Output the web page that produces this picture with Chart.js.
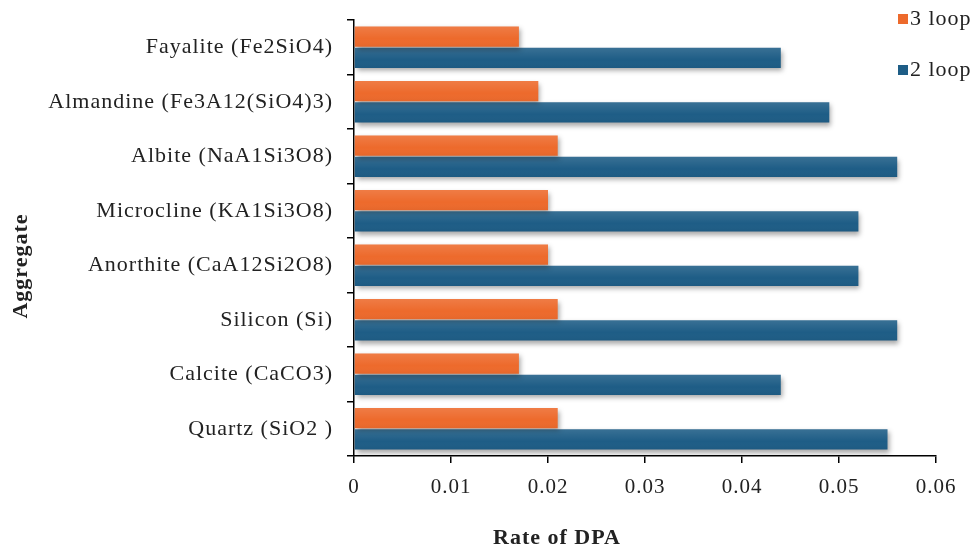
<!DOCTYPE html>
<html>
<head>
<meta charset="utf-8">
<script src="https://cdn.jsdelivr.net/npm/chart.js@4"></script>
<style>
  html, body { margin: 0; padding: 0; background: #ffffff; }
  #wrap { width: 977px; height: 552px; }
</style>
</head>
<body>
<div id="wrap"><canvas id="c" width="977" height="552"></canvas></div>
<script>
// Aggregate minerals, listed top to bottom
const categories = [
  'Fayalite (Fe2SiO4)',
  'Almandine (Fe3A12(SiO4)3)',
  'Albite (NaA1Si3O8)',
  'Microcline (KA1Si3O8)',
  'Anorthite (CaA12Si2O8)',
  'Silicon (Si)',
  'Calcite (CaCO3)',
  'Quartz (SiO2 )'
];
const seriesNames = ['3 loop', '2 loop'];
const loop3 = [0.017, 0.019, 0.021, 0.020, 0.020, 0.021, 0.017, 0.021];
const loop2 = [0.044, 0.049, 0.056, 0.052, 0.052, 0.056, 0.044, 0.055];
const xTicks = [0, 0.01, 0.02, 0.03, 0.04, 0.05, 0.06];
const xTitle = 'Rate of DPA';
const yTitle = 'Aggregate';

const SERIF = '"Liberation Serif", "Times New Roman", serif';
const ORANGE = '#ED6A2C';
const BLUE = '#1E5D86';

// slightly wider text tracking for every label on the canvas
const tracking = {
  id: 'tracking',
  beforeDraw(chart) { chart.ctx.letterSpacing = '1px'; }
};

// soft drop shadow behind the bars, plus a light sheen on their upper half
const barShadow = {
  id: 'barShadow',
  beforeDatasetsDraw(chart) {
    const ctx = chart.ctx;
    ctx.save();
    ctx.shadowColor = 'rgba(0,0,0,0.35)';
    ctx.shadowBlur = 5;
    ctx.shadowOffsetX = 2;
    ctx.shadowOffsetY = 3;
  },
  afterDatasetsDraw(chart) {
    const ctx = chart.ctx;
    ctx.restore();
    ctx.save();
    chart.data.datasets.forEach((ds, i) => {
      chart.getDatasetMeta(i).data.forEach(bar => {
        const top = bar.y - bar.height / 2;
        const g = ctx.createLinearGradient(0, top, 0, top + bar.height);
        g.addColorStop(0, 'rgba(255,255,255,0.12)');
        g.addColorStop(0.6, 'rgba(255,255,255,0)');
        g.addColorStop(1, 'rgba(0,0,0,0.04)');
        ctx.fillStyle = g;
        ctx.fillRect(bar.base, top, bar.x - bar.base, bar.height);
      });
    });
    ctx.restore();
  }
};

// legend in the upper right corner and the two axis titles
const annotations = {
  id: 'annotations',
  afterDraw(chart) {
    const ctx = chart.ctx;
    ctx.save();
    ctx.letterSpacing = '1px';
    ctx.textBaseline = 'middle';
    chart.data.datasets.forEach((ds, i) => {
      const y = 19 + i * 51;
      ctx.fillStyle = ds.backgroundColor;
      ctx.fillRect(898, y - 5, 10, 10);
      ctx.fillStyle = '#222';
      ctx.font = '22px ' + SERIF;
      ctx.textAlign = 'left';
      ctx.fillText(ds.label, 910, y);
    });
    ctx.fillStyle = '#222';
    ctx.font = 'bold 22px ' + SERIF;
    ctx.textAlign = 'center';
    ctx.fillText(xTitle, 557, 538);
    ctx.translate(21, 266);
    ctx.rotate(-Math.PI / 2);
    ctx.fillText(yTitle, 0, 0);
    ctx.restore();
  }
};

new Chart(document.getElementById('c'), {
  type: 'bar',
  data: {
    labels: categories,
    datasets: [
      { label: seriesNames[0], data: loop3, backgroundColor: ORANGE, borderWidth: 0 },
      { label: seriesNames[1], data: loop2, backgroundColor: BLUE, borderWidth: 0 }
    ]
  },
  options: {
    indexAxis: 'y',
    responsive: false,
    animation: false,
    devicePixelRatio: 1,
    layout: { padding: { top: 20, right: 41, left: 0, bottom: 0 } },
    datasets: { bar: { categoryPercentage: 0.78, barPercentage: 0.96 } },
    plugins: { legend: { display: false }, tooltip: { enabled: false } },
    scales: {
      x: {
        min: 0, max: 0.06,
        afterBuildTicks(scale) { scale.ticks = xTicks.map(v => ({ value: v })); },
        afterFit(scale) { scale.height = 96; },
        border: { display: true, color: '#000', width: 1.5 },
        grid: { drawOnChartArea: false, drawTicks: true, tickLength: 7, color: '#000', lineWidth: 1.5 },
        ticks: {
          color: '#222', padding: 12,
          font: { family: SERIF, size: 21 },
          callback: v => String(v)
        }
      },
      y: {
        afterFit(scale) {
          scale.width = 354;
          scale.paddingTop = 0;
          scale.paddingBottom = 0;
        },
        border: { display: true, color: '#000', width: 1.5 },
        grid: { drawOnChartArea: false, drawTicks: true, tickLength: 7, color: '#000', lineWidth: 1.5, offset: true },
        ticks: {
          color: '#222', padding: 14,
          font: { family: SERIF, size: 22 }
        }
      }
    }
  },
  plugins: [tracking, barShadow, annotations]
});
</script>
</body>
</html>
